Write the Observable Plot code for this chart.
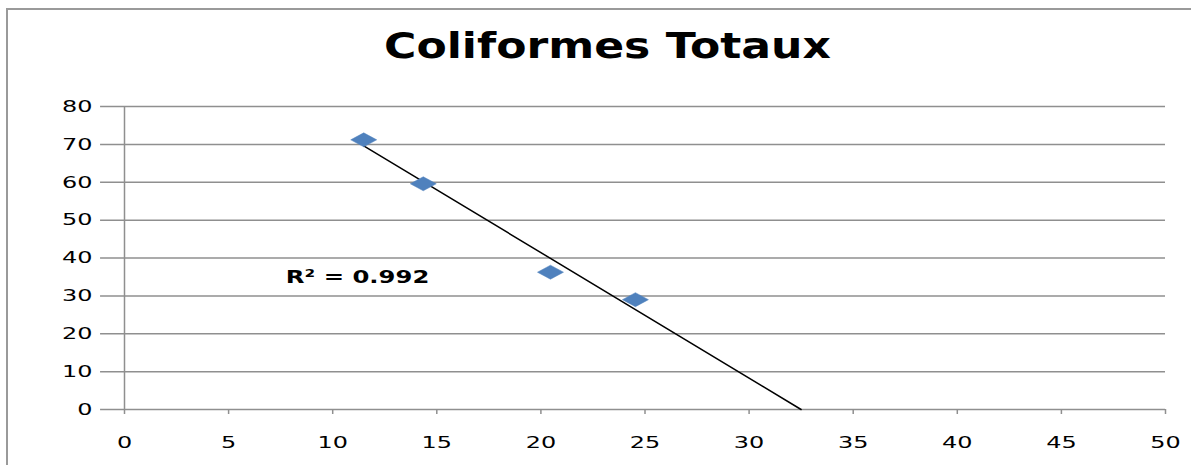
<!DOCTYPE html>
<html>
<head>
<meta charset="utf-8">
<script src="https://cdn.jsdelivr.net/npm/d3@7"></script>
<script src="https://cdn.jsdelivr.net/npm/@observablehq/plot@0.6"></script>
<style>
  html, body { margin: 0; padding: 0; background: #fff; overflow: hidden; }
  #wrap { position: relative; width: 1191px; height: 465px; overflow: hidden; }
  #frame { position: absolute; left: 6px; top: 8px; width: 1200px; height: 480px;
           border-left: 2px solid #9a9a9a; border-top: 2px solid #9a9a9a; box-sizing: border-box; }
  #title { position: absolute; left: 12px; top: 22px; width: 1191px; text-align: center;
           font-family: "DejaVu Sans", sans-serif; font-weight: bold; font-size: 35px; color: #000; line-height: 48px;
           transform: scaleX(1.26); transform-origin: 50% 0; }
  #chart { position: absolute; left: 0; top: 75px; }
</style>
</head>
<body>
<div id="wrap">
  <div id="frame"></div>
  <div id="title">Coliformes Totaux</div>
  <div id="chart"></div>
</div>
<script>
const xValues = [11.49, 14.35, 20.46, 24.54];
const yValues = [71.2, 59.6, 36.25, 29.0];
const xTicks = [0, 5, 10, 15, 20, 25, 30, 35, 40, 45, 50];
const yTicks = [0, 10, 20, 30, 40, 50, 60, 70, 80];
const r2Label = "R² = 0.992";
const r2Pos = {x: 7.75, y: 35};

const points = xValues.map((x, i) => ({x, y: yValues[i]}));

// least-squares linear trend, drawn from the first point down to the x-axis
const mx = d3.mean(xValues), my = d3.mean(yValues);
const slope = d3.sum(points, d => (d.x - mx) * (d.y - my)) / d3.sum(points, d => (d.x - mx) ** 2);
const intercept = my - slope * mx;
const x0 = d3.min(xValues);
const xEnd = -intercept / slope;
const trend = [{x: x0, y: intercept + slope * x0}, {x: xEnd, y: 0}];

const wideDiamond = {
  draw(context, size) {
    context.moveTo(-13, 0);
    context.lineTo(0, -7);
    context.lineTo(13, 0);
    context.lineTo(0, 7);
    context.closePath();
  }
};

const chart = Plot.plot({
  width: 1191,
  height: 390,
  marginLeft: 124,
  marginRight: 26,
  marginTop: 31,
  marginBottom: 56,
  style: {fontFamily: "DejaVu Sans, sans-serif", fontSize: "16.5px", color: "#000", background: "transparent"},
  x: {domain: [0, 50], ticks: xTicks, label: null},
  y: {domain: [0, 80], ticks: yTicks, label: null},
  marks: [
    Plot.ruleY(yTicks, {x1: -1.15, x2: 50, stroke: "#8f8f8f", strokeWidth: 1.5, clip: false}),
    Plot.ruleX([0], {y1: 0, y2: 80, stroke: "#8f8f8f", strokeWidth: 1.5}),
    Plot.axisX({ticks: xTicks, tickSize: 5, tickPadding: 22, stroke: "#8f8f8f", strokeWidth: 1.5, fontSize: 16.5, fill: "#000"}),
    Plot.axisY({ticks: yTicks, tickSize: 0, tickPadding: 32, fontSize: 16.5, fill: "#000"}),
    Plot.line(trend, {x: "x", y: "y", stroke: "#000", strokeWidth: 1.5}),
    Plot.dot(points, {x: "x", y: "y", symbol: wideDiamond, fill: "#4f81bd", stroke: "#4f81bd", strokeWidth: 0.5, r: 5}),
    Plot.text([r2Label], {x: r2Pos.x, y: r2Pos.y, text: d => d, textAnchor: "start", fontWeight: "bold", fontSize: 18, fill: "#000"})
  ]
});

// widen glyphs horizontally (reference text is horizontally stretched)
function stretch(sel, k) {
  sel.each(function() {
    const el = d3.select(this);
    let t = el.attr("transform");
    if (!t) {
      const x = +el.attr("x") || 0, y = +el.attr("y") || 0;
      el.attr("x", null).attr("y", null);
      t = `translate(${x},${y})`;
    }
    el.attr("transform", `${t} scale(${k},1)`);
  });
}
const svg = d3.select(chart);
stretch(svg.selectAll("[aria-label='x-axis tick label'] text"), 1.45);
stretch(svg.selectAll("[aria-label='y-axis tick label'] text"), 1.45);
stretch(svg.selectAll("[aria-label='text'] text"), 1.35);
document.getElementById("chart").appendChild(chart);
</script>
</body>
</html>
